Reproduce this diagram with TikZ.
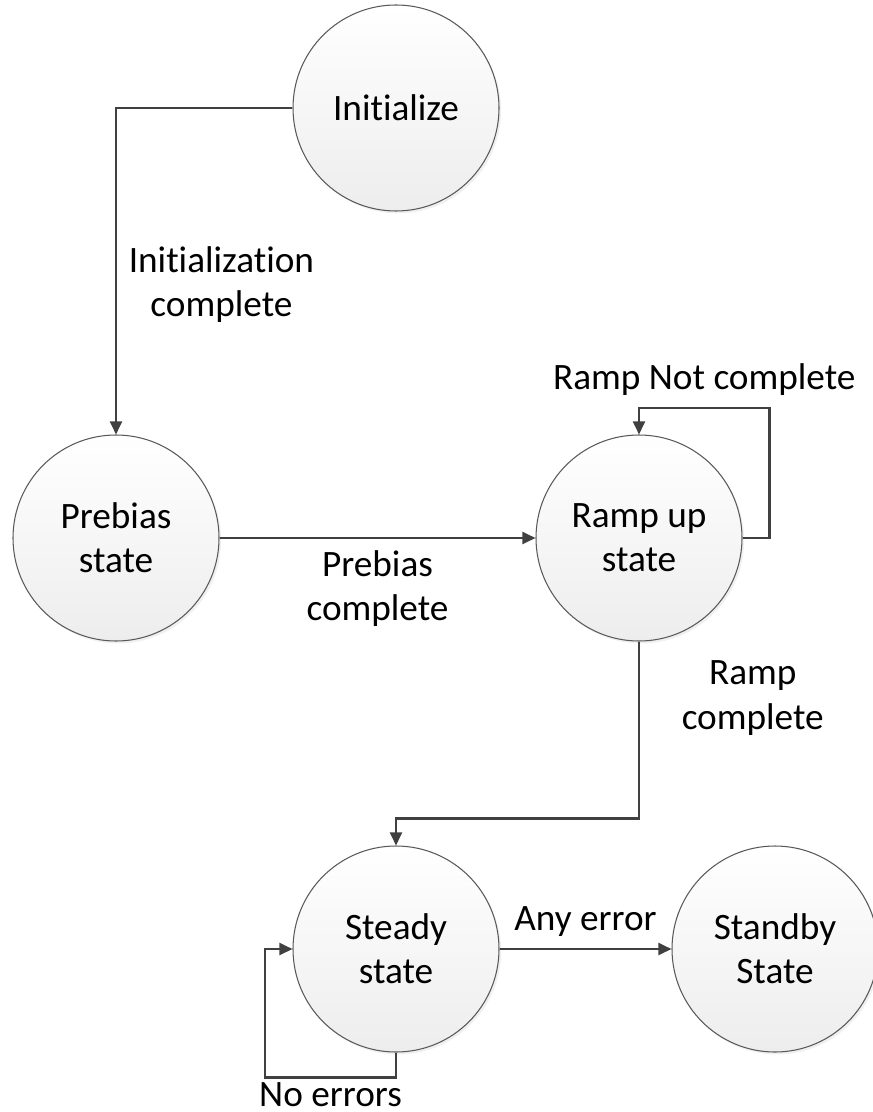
\documentclass[tikz,border=0pt]{standalone}
\usepackage{fontspec}
\setmainfont{Carlito}[Ligatures=NoCommon]
\usepackage{tikz}
\usetikzlibrary{arrows.meta,shadows}

\begin{document}
\begin{tikzpicture}[
        font=\fontsize{10.6}{12.6}\selectfont,
        state/.style={circle, draw=black!65, line width=0.3pt, minimum size=2.06cm, inner sep=0pt,
            top color=white, bottom color=black!7, align=center,
            drop shadow={shadow xshift=0.6pt, shadow yshift=-0.7pt, opacity=0.12}},
        conn/.style={draw=black!75, line width=0.6pt, -{Triangle[length=3.7pt,width=3.4pt]}},
        lbl/.style={align=center}
    ]
        \useasboundingbox (0,0) rectangle (8.73,-11.12);
        \node[state] (init)    at (3.96,-1.08) {Initialize};
        \node[state] (prebias) at (1.16,-5.38) {Prebias\\state};
        \node[state] (ramp)    at (6.39,-5.38) {Ramp up\\state};
        \node[state] (steady)  at (3.96,-9.49) {Steady\\state};
        \node[state] (standby) at (7.75,-9.49) {Standby\\State};
        \draw[conn] (init.west) -| (prebias.north)
            node[lbl, pos=0.77, right] (initdone) {Initialization\\complete};
        \draw[conn] (prebias) -- (ramp)
            node[lbl, midway, below] (prebiasdone) {Prebias\\complete};
        \draw[conn] (ramp.east) -| ++(0.27,1.30) -| (ramp.north)
            node[lbl, pos=0.25, above] (rampnot) {Ramp Not complete};
        \draw[conn] (ramp.south) -- ++(0,-1.77)
            node[lbl, pos=0.32, right=0.3cm] (rampdone) {Ramp\\complete}
            -| (steady.north);
        \draw[conn] (steady) -- (standby)
            node[lbl, midway, above] (anyerr) {Any error};
        \draw[conn] (steady.south) |- ++(-1.31,-0.25)
            node[lbl, pos=0.75, below=0cm, inner sep=1pt] (noerr) {No errors}
            |- (steady.west);
\end{tikzpicture}
\end{document}
